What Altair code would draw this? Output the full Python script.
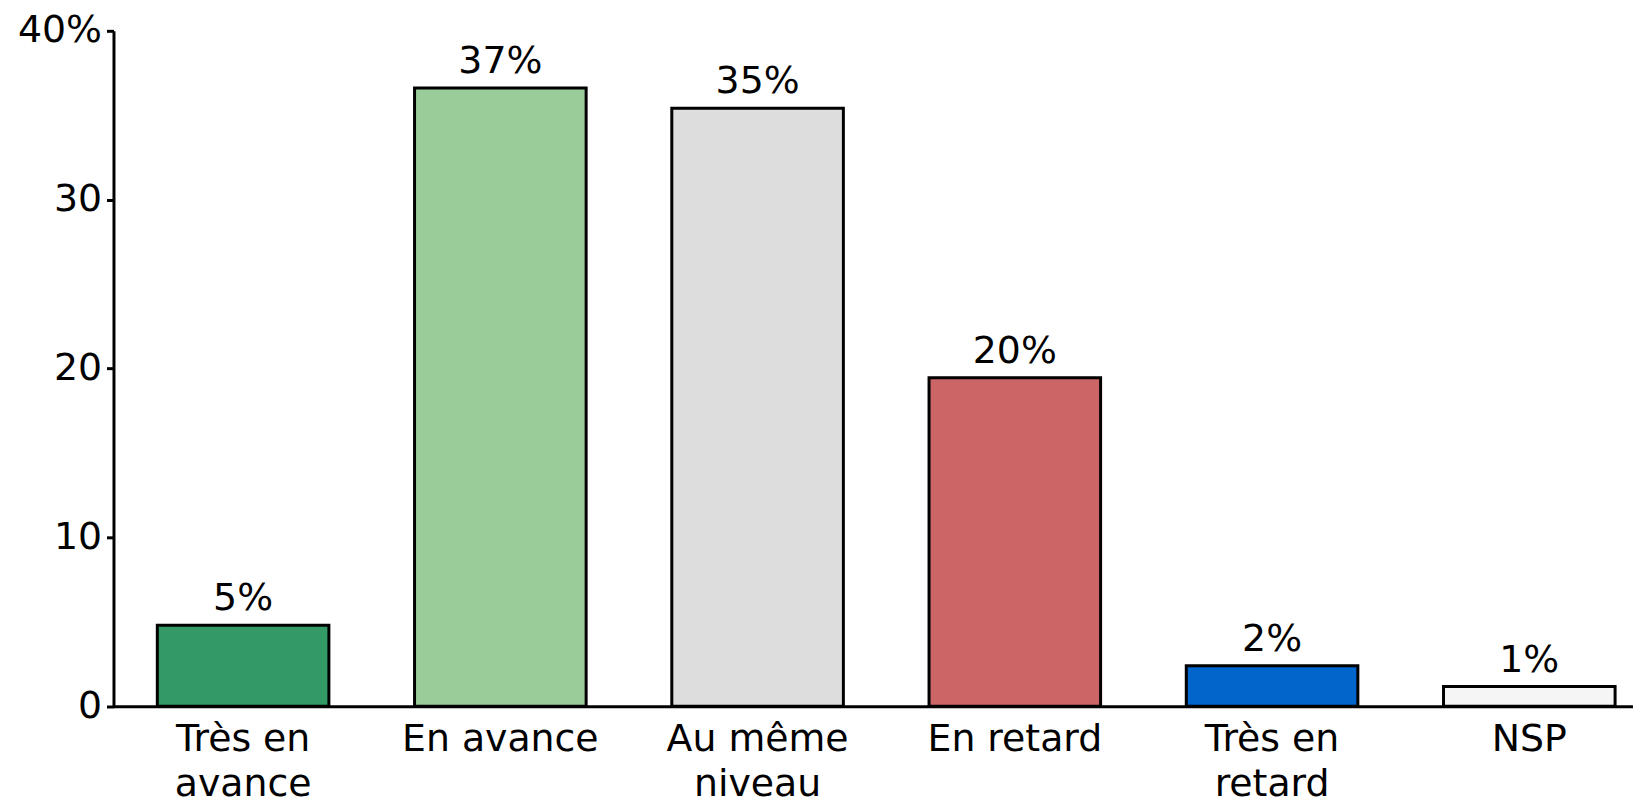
import altair as alt
import pandas as pd

categories = ["Très en\navance", "En avance", "Au même\nniveau", "En retard", "Très en\nretard", "NSP"]
values = [4.8, 36.62, 35.42, 19.45, 2.4, 1.17]
labels = ["5%", "37%", "35%", "20%", "2%", "1%"]
colors = ["#339966", "#99CC99", "#DDDDDD", "#CC6666", "#0066CC", "#F5F5F5"]
y_ticks = [0, 10, 20, 30, 40]

df = pd.DataFrame({"cat": categories, "val": values, "lab": labels, "col": colors})

FONT = "DejaVu Sans"
FS = 38

x = alt.X(
    "cat:N",
    sort=categories,
    scale=alt.Scale(paddingInner=0.333, paddingOuter=0.12, align=0.71, round=False),
    axis=alt.Axis(
        title=None,
        labelAngle=0,
        labelExpr="split(datum.label, '\\n')",
        labelLimit=0,
        ticks=False,
        tickSize=0,
        labelPadding=15,
        labelFontSize=FS,
        labelLineHeight=45,
        labelFont=FONT,
        labelColor="black",
        domainColor="black",
        domainWidth=3,
    ),
)

y = alt.Y(
    "val:Q",
    scale=alt.Scale(domain=[0, 40], nice=False, zero=True),
    axis=alt.Axis(
        title=None,
        values=y_ticks,
        labelExpr="datum.value == 40 ? '40%' : datum.label",
        tickSize=7,
        tickWidth=3,
        tickColor="black",
        domainWidth=3,
        domainColor="black",
        labelFontSize=FS,
        labelFont=FONT,
        labelColor="black",
        labelPadding=5,
        grid=False,
    ),
)

bars = alt.Chart(df).mark_bar(stroke="black", strokeWidth=3).encode(
    x=x, y=y, color=alt.Color("col:N", scale=None)
)

text = alt.Chart(df).mark_text(
    dy=-15, baseline="alphabetic", fontSize=FS, font=FONT, color="black"
).encode(x=x, y=y, text="lab:N")

chart = (
    alt.layer(bars, text)
    .properties(
        width=1527,
        height=678.7,
        autosize=alt.AutoSizeParams(type="none"),
        padding={"left": 106, "top": 21, "right": 0, "bottom": 91},
        background="white",
    )
    .configure_view(stroke=None)
)

chart.save("out.html", embed_options={"renderer": "svg", "actions": False})
